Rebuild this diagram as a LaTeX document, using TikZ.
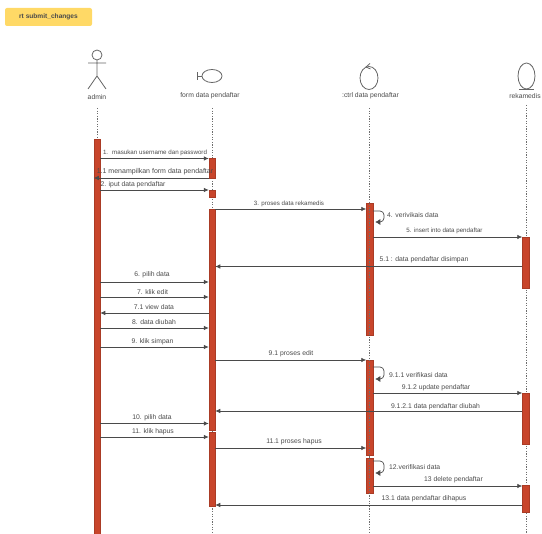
\documentclass[tikz,border=0pt]{standalone}
\usepackage{fontspec}
\setmainfont{Liberation Sans}
\usetikzlibrary{arrows.meta}
\definecolor{barred}{HTML}{C8452B}
\definecolor{notegold}{HTML}{FFD966}
\definecolor{inkgray}{HTML}{4A4A4A}
\newcommand{\smallmsg}{\fontsize{6.2}{7}\selectfont}
\tikzset{
  actbar/.style={draw=barred!85!black,line width=0.3pt,fill=barred,minimum width=6.5pt,inner sep=0pt,outer sep=0pt},
  lifeline/.style={inkgray!80,line width=0.7pt,dash pattern=on 1.2pt off 1.4pt},
  msg/.style={-{Latex[length=5pt,width=4.5pt]},inkgray,line width=0.7pt},
  selfmsg/.style={-{Latex[length=5pt,width=6pt]},inkgray,line width=0.7pt,rounded corners=4pt,shorten >=2.5pt},
  msglabel/.style={text=inkgray,font=\fontsize{6.8}{8}\selectfont,inner sep=0pt},
  rolelabel/.style={text=inkgray,font=\fontsize{6.8}{8}\selectfont,inner sep=0pt},
  roleshape/.style={draw=inkgray!85,line width=0.8pt},
}
\begin{document}
\begin{tikzpicture}[x=1pt,y=-1pt]
  \useasboundingbox (0,0) rectangle (542,534);
  % frame tab
  \node[fill=notegold,rounded corners=2pt,minimum width=87pt,minimum height=18pt,inner sep=0pt,
    font=\fontsize{6.6}{8}\selectfont\bfseries,text=inkgray] (frametab) at (48.5,17) {rt submit\_changes};
  % admin
  \draw[roleshape] (97,55) circle (5);
  \draw[roleshape] (97,60)--(97,76) (88,63)--(106,63) (88,89)--(97,76)--(106,89);
  \node[rolelabel] (adminlabel) at (97,97) {admin};
  % form
  \draw[roleshape] (212,76) ellipse (10 and 6.5);
  \draw[roleshape] (197,72.5)--(197,80) (197,76)--(202,76);
  \node[rolelabel] (formlabel) at (210,96) {form data pendaftar};
  % ctrl
  \draw[roleshape] (369,78) ellipse (9 and 11.5);
  \draw[roleshape] (370,63.5)--(366,67)--(370.5,69);
  \node[rolelabel] (ctrllabel) at (370.5,96) {:ctrl data pendaftar};
  % rekamedis
  \draw[roleshape] (526.5,76) ellipse (8.5 and 13);
  \draw[roleshape] (519,89)--(534,89);
  \node[rolelabel] (rekamlabel) at (525,96) {rekamedis};
  % lifelines, bars
  \coordinate (admintop) at (97,108);
  \coordinate (formtop) at (212,108);
  \coordinate (formend) at (212,534);
  \coordinate (ctrltop) at (369,108);
  \coordinate (ctrlend) at (369,534);
  \coordinate (rekamtop) at (526,105);
  \coordinate (rekamend) at (526,534);
  \draw[lifeline] (admintop)--(97,139);
  \draw[lifeline] (formtop)--(formend);
  \draw[lifeline] (rekamtop)--(rekamend);
  \node[actbar,minimum height=395pt] (adminbar) at (97,336.5) {};
  \node[actbar,minimum height=20pt] (forma) at (212,168) {};
  \node[actbar,minimum height=7pt] (formb) at (212,193.5) {};
  \node[actbar,minimum height=221pt] (formc) at (212,319.5) {};
  \node[actbar,minimum height=74pt] (formd) at (212,469) {};
  \node[actbar,minimum height=132pt] (ctrla) at (369.5,269) {};
  \node[actbar,minimum height=95pt] (ctrlb) at (369.5,407.5) {};
  \node[actbar,minimum height=35pt] (ctrlc) at (369.5,475.5) {};
  \node[actbar,minimum height=51pt] (rekama) at (525.5,262.5) {};
  \node[actbar,minimum height=51pt] (rekamb) at (525.5,418.5) {};
  \node[actbar,minimum height=27pt] (rekamc) at (525.5,498.5) {};
  \draw[lifeline] (ctrltop)--(ctrlend);
  % admin to form
  \foreach \msg/\yline/\target/\xtext/\ytext/\txt in {
    a/158.5/forma/155/152.5/\smallmsg 1.~ masukan username dan password,
    b/190/formb/133/184.5/2. iput data pendaftar,
    c/282/formc/152/275/6. pilih data,
    d/297/formc/152.5/292.5/7. klik edit,
    e/328/formc/154/322.5/8. data diubah,
    f/347/formc/152.5/341.5/9. klik simpan,
    g/423.5/formc/152/418/10. pilih data,
    h/437/formd/153/432/11. klik hapus}
  {
    \draw[msg] (adminbar.east |- 0,\yline) -- (\target.west |- 0,\yline);
    \node[msglabel] (label\msg) at (\xtext,\ytext) {\txt};
  }
  % back to admin
  \draw[msg] (forma.west |- 0,178) -- (adminbar.west |- 0,178);
  \node[msglabel,font=\fontsize{7}{8}\selectfont] (labelback) at (155,172) {1.1 menampilkan form data pendaftar};
  \draw[msg] (formc.west |- 0,313) -- (adminbar.east |- 0,313);
  \node[msglabel] (labelview) at (154,307) {7.1 view data};
  % form to ctrl
  \foreach \msg/\yline/\source/\target/\xtext/\ytext/\txt in {
    i/209/formc/ctrla/289/204/\smallmsg 3. proses data rekamedis,
    j/360/formc/ctrlb/291/354/9.1 proses edit,
    k/448/formd/ctrlb/294/441.5/11.1 proses hapus}
  {
    \draw[msg] (\source.east |- 0,\yline) -- (\target.west |- 0,\yline);
    \node[msglabel] (label\msg) at (\xtext,\ytext) {\txt};
  }
  % ctrl to rekamedis
  \foreach \msg/\yline/\source/\target/\xtext/\ytext/\txt in {
    l/237/ctrla/rekama/444.5/231/\smallmsg 5. insert into data pendaftar,
    m/393/ctrlb/rekamb/436/387.5/9.1.2 update pendaftar,
    n/486/ctrlc/rekamc/453.5/480/13 delete pendaftar}
  {
    \draw[msg] (\source.east |- 0,\yline) -- (\target.west |- 0,\yline);
    \node[msglabel] (label\msg) at (\xtext,\ytext) {\txt};
  }
  % rekamedis to form
  \foreach \msg/\yline/\source/\target/\xtext/\ytext/\txt in {
    o/266.5/rekama/formc/424/259.5/5.1 : data pendaftar disimpan,
    p/411/rekamb/formc/435.5/407/9.1.2.1 data pendaftar diubah,
    q/505/rekamc/formd/424/499/13.1 data pendaftar dihapus}
  {
    \draw[msg] (\source.west |- 0,\yline) -- (\target.east |- 0,\yline);
    \node[msglabel] (label\msg) at (\xtext,\ytext) {\txt};
  }
  % self calls
  \foreach \msg/\ya/\yb/\bar/\xtext/\ytext/\txt in {
    r/211/222/ctrla/387/215/4. verivikais data,
    s/367/379/ctrlb/389/375/9.1.1 verifikasi data,
    t/461/473/ctrlc/389/467/12.verifikasi data}
  {
    \draw[selfmsg] (\bar.east |- 0,\ya) -- (384,\ya) -- (384,\yb) -- (\bar.east |- 0,\yb);
    \node[msglabel,anchor=west] (label\msg) at (\xtext,\ytext) {\txt};
  }
\end{tikzpicture}
\end{document}
